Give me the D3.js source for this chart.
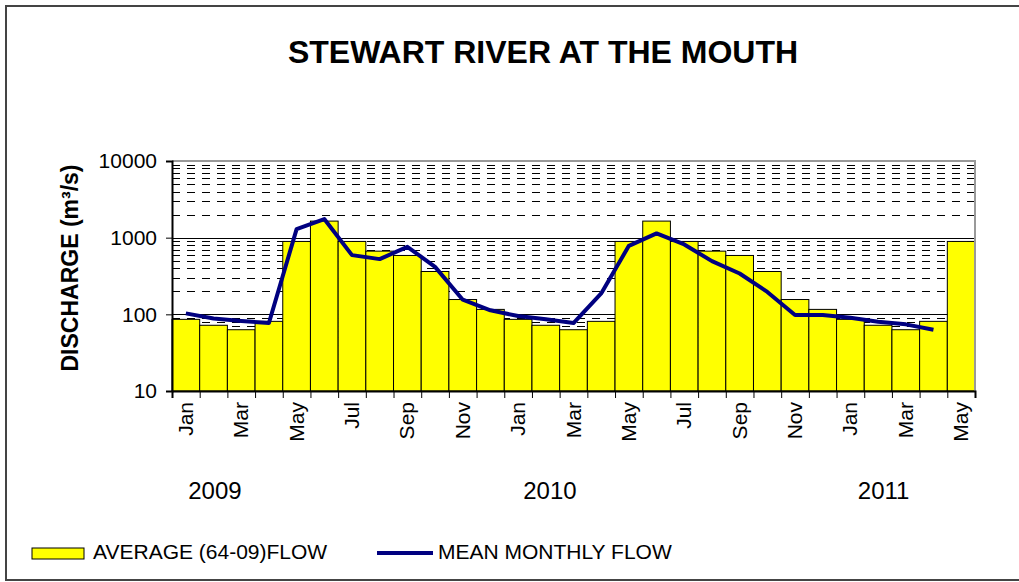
<!DOCTYPE html>
<html>
<head>
<meta charset="utf-8">
<script src="https://cdn.jsdelivr.net/npm/d3@7"></script>
<style>
body { margin: 0; background: #fff; }
text { font-family: "Liberation Sans", Arial, sans-serif; fill: #000; }
</style>
</head>
<body>
<div class="visualisation"></div>
<script>
//DATA
var months = ["Jan","Feb","Mar","Apr","May","Jun","Jul","Aug","Sep","Oct","Nov","Dec",
              "Jan","Feb","Mar","Apr","May","Jun","Jul","Aug","Sep","Oct","Nov","Dec",
              "Jan","Feb","Mar","Apr","May"];
// average (64-09) flow, repeated each year
var avgFlow = [86,72,63,81,893,1645,893,667,586,362,156,116,
               86,72,63,81,893,1645,893,667,586,362,156,116,
               86,72,63,81,893];
// mean monthly flow, Jan 2009 - Apr 2011
var meanFlow = [103,88,82,77,1294,1747,592,525,760,416,155,113,
                95,86,77,187,783,1137,816,494,341,196,98,98,
                90,80,74,63];
var yTicks = [10,100,1000,10000];
var years = ["2009","2010","2011"];
var yearPos = [1.55,13.65,25.7];   // in month units along the axis

//CANVAS
var W = 1019, H = 582;
var plot = {left:172, right:975, top:161, bottom:391};

var svg = d3.select(".visualisation").append("svg")
    .attr("width", W)
    .attr("height", H);

// outer chart border
svg.append("rect")
    .attr("x", 6).attr("y", 6)
    .attr("width", 1040).attr("height", 574)
    .attr("fill", "none")
    .attr("stroke", "#444")
    .attr("stroke-width", 2);

//SCALES
var idx = d3.range(months.length);
var x = d3.scaleBand().domain(idx).range([plot.left, plot.right]).padding(0);
var xm = d3.scaleLinear().domain([0, months.length]).range([plot.left, plot.right]);
var y = d3.scaleLog().domain([10, 10000]).range([plot.bottom, plot.top]);

//GRIDLINES
var minor = [];
[10,100,1000].forEach(function(d){
	for (var k = 2; k <= 9; k++) minor.push(d*k);
});

svg.append("g").selectAll("line").data(minor).enter().append("line")
    .attr("x1", plot.left).attr("x2", plot.right)
    .attr("y1", function(d){ return Math.round(y(d)) + 0.5; })
    .attr("y2", function(d){ return Math.round(y(d)) + 0.5; })
    .attr("stroke", "#000")
    .attr("stroke-width", 1)
    .attr("stroke-dasharray", "8,7");

svg.append("g").selectAll("line").data([100,1000,10000]).enter().append("line")
    .attr("x1", plot.left).attr("x2", plot.right)
    .attr("y1", function(d){ return Math.round(y(d)) + 0.5; })
    .attr("y2", function(d){ return Math.round(y(d)) + 0.5; })
    .attr("stroke", "#000")
    .attr("stroke-width", 1);

//BARS
svg.append("g").selectAll("rect").data(avgFlow).enter().append("rect")
    .attr("x", function(d,i){ return x(i); })
    .attr("y", function(d){ return y(d); })
    .attr("width", x.bandwidth())
    .attr("height", function(d){ return plot.bottom - y(d); })
    .attr("fill", "#ffff00")
    .attr("stroke", "#000")
    .attr("stroke-width", 1);

// plot area border (top / right grey)
svg.append("path")
    .attr("d", "M" + plot.left + "," + plot.top + "H" + plot.right + "V" + plot.bottom)
    .attr("fill", "none")
    .attr("stroke", "#999")
    .attr("stroke-width", 2);

//LINE
var line = d3.line()
    .x(function(d,i){ return x(i) + x.bandwidth()/2; })
    .y(function(d){ return y(d); });

svg.append("path")
    .datum(meanFlow)
    .attr("d", line)
    .attr("fill", "none")
    .attr("stroke", "#000080")
    .attr("stroke-width", 4)
    .attr("stroke-linejoin", "round");

//AXES
var yAxis = svg.append("g")
    .attr("transform", "translate(" + plot.left + ",0)")
    .call(d3.axisLeft(y).tickValues(yTicks).tickFormat(d3.format("d")).tickSize(6).tickPadding(9));
yAxis.select(".domain").attr("stroke-width", 2);
yAxis.selectAll("text").style("font-size", "21px");

var xAxis = svg.append("g")
    .attr("transform", "translate(0," + plot.bottom + ")")
    .call(d3.axisBottom(xm).tickValues(d3.range(months.length + 1)).tickFormat("").tickSize(7));
xAxis.select(".domain").attr("stroke-width", 2);

svg.append("g").selectAll("text")
    .data(idx.filter(function(i){ return i % 2 === 0; }))
    .enter().append("text")
    .attr("transform", function(i){
    	return "translate(" + (x(i) + x.bandwidth()/2 + 7) + "," + (plot.bottom + 11) + ") rotate(-90)";
    })
    .attr("text-anchor", "end")
    .style("font-size", "21px")
    .text(function(i){ return months[i]; });

svg.append("g").selectAll("text").data(years).enter().append("text")
    .attr("x", function(d,i){ return xm(yearPos[i]); })
    .attr("y", 499)
    .attr("text-anchor", "middle")
    .style("font-size", "24px")
    .text(function(d){ return d; });

//TITLES
svg.append("text")
    .attr("x", 543).attr("y", 63)
    .attr("text-anchor", "middle")
    .style("font-size", "32px")
    .style("font-weight", "bold")
    .text("STEWART RIVER AT THE MOUTH");

svg.append("text")
    .attr("transform", "translate(78,268) rotate(-90)")
    .attr("text-anchor", "middle")
    .style("font-size", "23px")
    .style("font-weight", "bold")
    .text("DISCHARGE (m\u00b3/s)");

//LEGEND
svg.append("rect")
    .attr("x", 32).attr("y", 548)
    .attr("width", 52).attr("height", 11)
    .attr("fill", "#ffff00")
    .attr("stroke", "#000")
    .attr("stroke-width", 1);
svg.append("text")
    .attr("x", 93).attr("y", 559)
    .style("font-size", "21px")
    .text("AVERAGE (64-09)FLOW");

svg.append("line")
    .attr("x1", 377).attr("x2", 433)
    .attr("y1", 553).attr("y2", 553)
    .attr("stroke", "#000080")
    .attr("stroke-width", 4);
svg.append("text")
    .attr("x", 438).attr("y", 559)
    .style("font-size", "21px")
    .text("MEAN MONTHLY FLOW");
</script>
</body>
</html>
